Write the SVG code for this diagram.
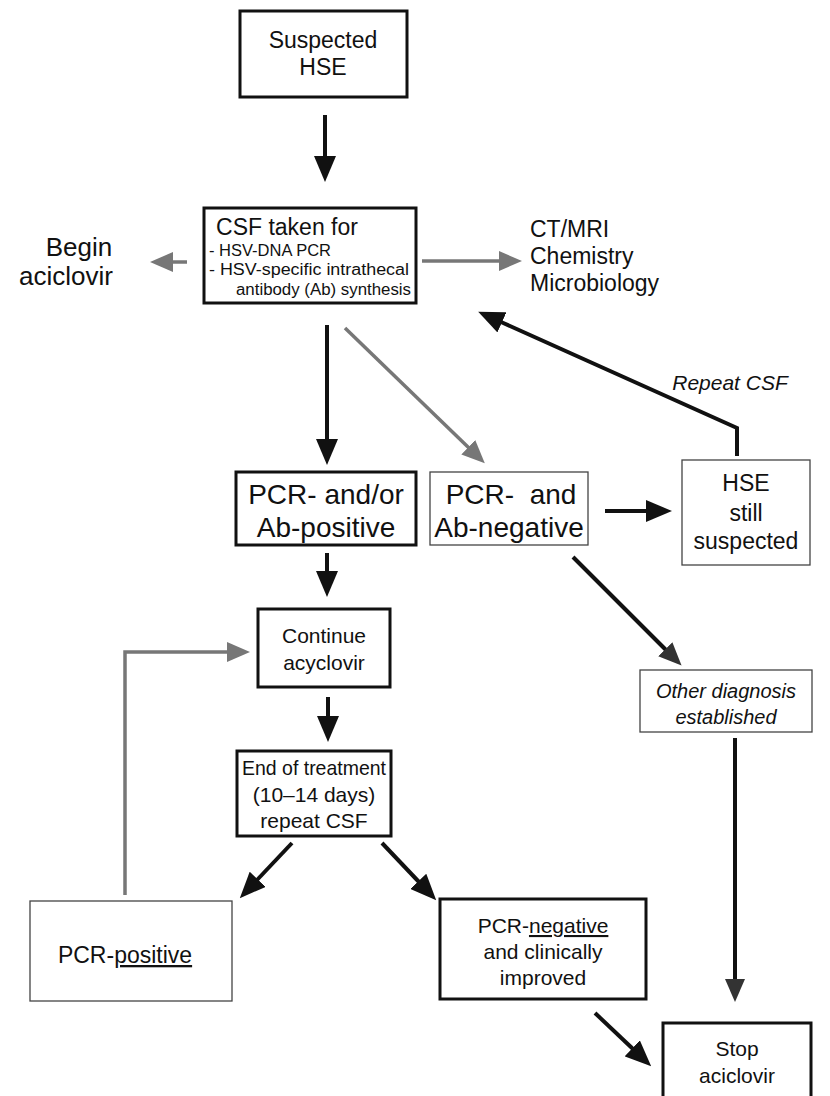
<svg xmlns="http://www.w3.org/2000/svg" width="830" height="1096" viewBox="0 0 830 1096">
<defs>
<style>
text{font-family:"Liberation Sans",Arial,sans-serif;fill:#111;text-anchor:middle}
.t18{font-size:20px}.t19{font-size:21px}.t22{font-size:23px}.t24{font-size:28px}.t26{font-size:26px}.t14{font-size:16px;text-anchor:start}
.it{font-style:italic}
.bx{fill:#fff;stroke:#111;stroke-width:3}
.bt{fill:#fff;stroke:#444;stroke-width:1.3}
.c{fill:none;stroke:#111;stroke-width:4}
.g{fill:none;stroke:#777;stroke-width:3.5}
</style>
<marker id="ah" markerUnits="userSpaceOnUse" viewBox="0 0 26 22" markerWidth="26" markerHeight="22" refX="1" refY="11" orient="auto"><path d="M0,0 L26,11 L0,22 z" fill="#111"/></marker>
<marker id="ahg" markerUnits="userSpaceOnUse" viewBox="0 0 23 20" markerWidth="23" markerHeight="20" refX="1" refY="10" orient="auto"><path d="M0,0 L23,10 L0,20 z" fill="#777"/></marker>
<marker id="ahd" markerUnits="userSpaceOnUse" viewBox="0 0 23 20" markerWidth="23" markerHeight="20" refX="1" refY="10" orient="auto"><path d="M0,0 L23,10 L0,20 z" fill="#333"/></marker>
</defs>
<rect width="830" height="1096" fill="#fff"/>

<g id="connectors">
<path class="c" d="M325,115 V157" marker-end="url(#ah)"/>
<path class="g" d="M187,262 H172" marker-end="url(#ahg)"/>
<path class="g" d="M422,261 H500" marker-end="url(#ahg)"/>
<path class="c" d="M327,325 V440" marker-end="url(#ah)"/>
<path class="g" d="M345,328 L469,448" marker-end="url(#ahg)"/>
<path class="c" d="M737,456 V428 L501,322" marker-end="url(#ah)"/>
<path class="c" d="M605,511 H647" marker-end="url(#ah)"/>
<path class="c" d="M573,557 L666,650" stroke="#333" marker-end="url(#ahd)"/>
<path class="c" d="M327,553 V572" marker-end="url(#ah)"/>
<path class="c" d="M328,697 V717" marker-end="url(#ah)"/>
<path class="c" d="M292,843 L257,880" marker-end="url(#ah)"/>
<path class="c" d="M382,843 L419,882" marker-end="url(#ah)"/>
<path class="g" d="M125,895 V652 H228" marker-end="url(#ahg)"/>
<path class="c" d="M735,738 V980" stroke="#333" marker-end="url(#ahd)"/>
<path class="c" d="M595,1013 L633,1049" marker-end="url(#ah)"/>
<text class="t19 it" x="730" y="390">Repeat CSF</text>
</g>

<g id="suspected">
<rect class="bx" x="240" y="11" width="167" height="86"/>
<text class="t22" x="323" y="48">Suspected</text>
<text class="t22" x="323" y="75">HSE</text>
</g>

<g id="csf">
<rect class="bx" x="204" y="208" width="212" height="95"/>
<text class="t22" x="287" y="235">CSF taken for</text>
<text class="t14" x="209" y="256" textLength="122" lengthAdjust="spacingAndGlyphs">- HSV-DNA PCR</text>
<text class="t14" x="209" y="275" textLength="200" lengthAdjust="spacingAndGlyphs">- HSV-specific intrathecal</text>
<text class="t14" x="236" y="295" textLength="175" lengthAdjust="spacingAndGlyphs">antibody (Ab) synthesis</text>
</g>

<g id="begin">
<text class="t26" x="79" y="256">Begin</text>
<text class="t26" x="66" y="285">aciclovir</text>
</g>

<g id="ctmri">
<text class="t22" x="530" y="237" style="text-anchor:start">CT/MRI</text>
<text class="t22" x="530" y="264" style="text-anchor:start">Chemistry</text>
<text class="t22" x="530" y="291" style="text-anchor:start">Microbiology</text>
</g>

<g id="pcrpos">
<rect class="bx" x="236" y="472" width="180" height="73"/>
<text class="t24" x="326" y="504">PCR- and/or</text>
<text class="t24" x="326" y="537">Ab-positive</text>
</g>

<g id="pcrneg">
<rect class="bt" x="430" y="472" width="158" height="73"/>
<text class="t24" x="511" y="504" xml:space="preserve">PCR-  and</text>
<text class="t24" x="509" y="537">Ab-negative</text>
</g>

<g id="hse">
<rect class="bt" x="682" y="460" width="128" height="105"/>
<text class="t22" x="746" y="491">HSE</text>
<text class="t22" x="746" y="521">still</text>
<text class="t22" x="746" y="549">suspected</text>
</g>

<g id="continue">
<rect class="bx" x="258" y="609" width="132" height="78"/>
<text class="t19" x="324" y="643">Continue</text>
<text class="t19" x="324" y="670">acyclovir</text>
</g>

<g id="end">
<rect class="bx" x="237" y="751" width="154" height="85"/>
<text class="t19" x="314" y="775" textLength="144" lengthAdjust="spacingAndGlyphs">End of treatment</text>
<text class="t19" x="314" y="802">(10–14 days)</text>
<text class="t19" x="314" y="828">repeat CSF</text>
</g>

<g id="other">
<rect class="bt" x="640" y="670" width="172" height="62"/>
<text class="t18 it" x="726" y="698">Other diagnosis</text>
<text class="t18 it" x="726" y="724">established</text>
</g>

<g id="pcrpositive">
<rect class="bt" x="30" y="901" width="202" height="100"/>
<text class="t22" x="125" y="963">PCR-<tspan text-decoration="underline">positive</tspan></text>
</g>

<g id="pcrnegative">
<rect class="bx" x="440" y="899" width="206" height="100"/>
<text class="t19" x="543" y="933">PCR-<tspan text-decoration="underline">negative</tspan></text>
<text class="t19" x="543" y="959">and clinically</text>
<text class="t19" x="543" y="985">improved</text>
</g>

<g id="stop">
<rect class="bx" x="663" y="1023" width="148" height="80"/>
<text class="t19" x="737" y="1056">Stop</text>
<text class="t19" x="737" y="1083">aciclovir</text>
</g>
</svg>
